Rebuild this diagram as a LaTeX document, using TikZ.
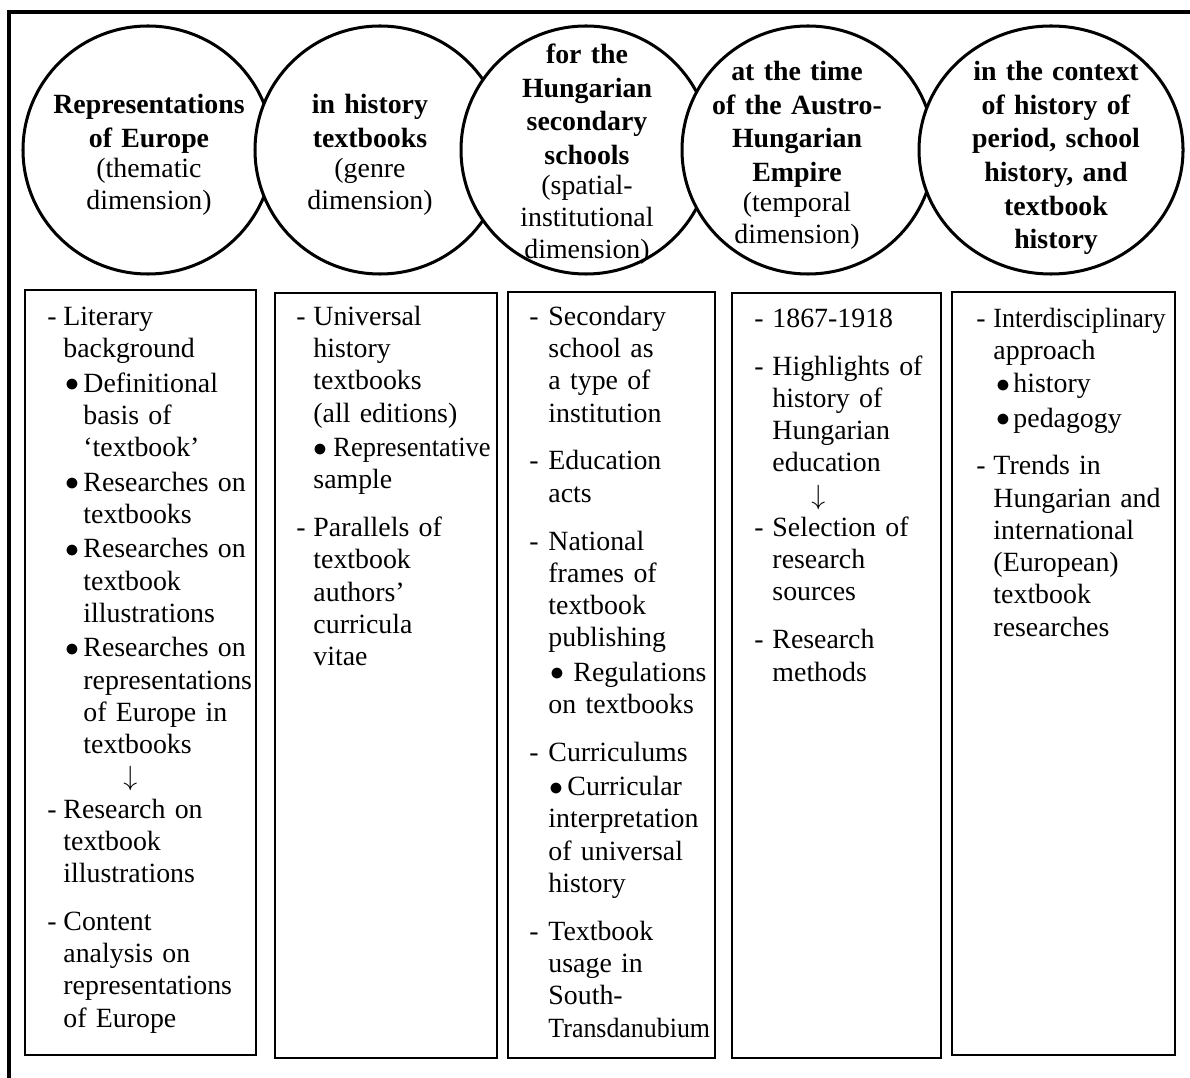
\documentclass[tikz,border=0pt]{standalone}
\usepackage{fontspec}
\setmainfont{Liberation Serif}
\usepackage{graphicx}
\usepackage{tikz}
\usetikzlibrary{shapes.geometric}
\newlength{\px}\setlength{\px}{0.431pt}
\newlength{\dw}\newlength{\bi}\newlength{\bw}
\newcommand{\setcol}[3]{\setlength{\dw}{#1\px}\setlength{\bi}{#2\px}\setlength{\bw}{#3\px}}
\newcommand{\dl}[1]{\makebox[\dw][l]{-}#1}
\newcommand{\cl}{\hspace*{\dw}}
\newcommand{\dotmark}{\hspace{-0.6pt}\raisebox{0.2pt}{$\bullet$}}
\newcommand{\bl}[1]{\hspace*{\bi}\makebox[\bw][l]{\dotmark}#1}
\newcommand{\bc}{\hspace*{\dimexpr\bi+\bw\relax}}
\newcommand{\dgap}{6.7pt}
\newcommand{\bgap}{0.95pt}
\tikzset{
  outerframe/.style = {draw, line width=1.3pt},
  topic/.style      = {ellipse, draw, fill=white, line width=1.3pt,
                       minimum height=248*0.431pt, inner sep=0pt},
  topictext/.style  = {anchor=north, align=center, text width=250*0.431pt,
                       inner sep=0pt, font=\fontsize{12}{13.7}\selectfont},
  colbox/.style     = {draw, line width=0.85pt},
  coltext/.style    = {anchor=north west, align=left, text width=240*0.431pt,
                       inner sep=0pt, font=\fontsize{12}{13.9}\selectfont},
}
\begin{document}
\begin{tikzpicture}[x=0.431pt, y=-0.431pt]
  \path[use as bounding box, clip] (0,0) rectangle (1190,1077);
  \draw[outerframe] (9,12) rectangle (1210,1100);
  % each ellipse is laid over the one before it
  \foreach \n/\cx/\rx in {1/148/125, 2/380/125, 3/586/125, 4/808/126, 5/1051/132}
    {\node[topic, minimum width=2*\rx*0.431pt] (topic\n) at (\cx,150) {};}
  \node[topictext] (thematic) at (149,90.75)
    {\strut\textbf{Representations}\\[0.8pt]\textbf{of Europe}\\[-0.6pt](thematic\\dimension)};
  \node[topictext] (genre) at (370,90.75)
    {\strut\textbf{in history}\\[0.8pt]\textbf{textbooks}\\[-0.6pt](genre\\dimension)};
  \node[topictext] (spatial) at (587,40.75)
    {\strut\textbf{for the}\\[0.8pt]\textbf{Hungarian}\\[0.8pt]\textbf{secondary}\\[0.8pt]%
     \textbf{schools}\\[-0.6pt](spatial-\\institutional\\dimension)};
  \node[topictext] (temporal) at (797,57.75)
    {\strut\textbf{at the time}\\[0.8pt]\textbf{of the Austro-}\\[0.8pt]\textbf{Hungarian}\\[0.8pt]%
     \textbf{Empire}\\[-0.6pt](temporal\\dimension)};
  \node[topictext] (context) at (1056,57.75)
    {\strut\textbf{in the context}\\[0.8pt]\textbf{of history of}\\[0.8pt]\textbf{period, school}\\[0.8pt]%
     \textbf{history, and}\\[0.8pt]\textbf{textbook}\\[0.8pt]\textbf{history}};
  \foreach \n/\xa/\ya/\xb/\yb in {1/25/290/256/1055, 2/275/293/497/1058, 3/508/292/715/1058,
                                  4/732/293/941/1058, 5/952/292/1175/1055}
    {\draw[colbox] (\xa,\ya) rectangle (\xb,\yb);}
  \node[coltext] (colthematic) at (47,302.4) {\setcol{16}{19}{17}%
    \strut\dl{Literary}\\
    \cl background\\[\bgap]
    \bl{Definitional}\\
    \bc basis of\\
    \bc ‘textbook’\\[\bgap]
    \bl{Researches on}\\
    \bc textbooks\\[\bgap]
    \bl{Researches on}\\
    \bc textbook\\
    \bc illustrations\\[\bgap]
    \bl{Researches on}\\
    \bc representations\\
    \bc of Europe in\\
    \bc textbooks\\
    \hspace*{76\px}$\downarrow$\\
    \dl{Research on}\\
    \cl textbook\\
    \cl illustrations\\[\dgap]
    \dl{Content}\\
    \cl analysis on\\
    \cl representations\\
    \cl of Europe};
  \node[coltext] (colgenre) at (296,302.4) {\setcol{17}{18}{19}%
    \strut\dl{Universal}\\
    \cl history\\
    \cl textbooks\\
    \cl (all editions)\\[\bgap]
    \bl{\scalebox{0.95}[1]{Representative}}\\
    \cl sample\\[\dgap]
    \dl{Parallels of}\\
    \cl textbook\\
    \cl authors’\\
    \cl curricula\\
    \cl vitae};
  \node[coltext] (colspatial) at (529,302.4) {\setcol{19}{22}{22}%
    \strut\dl{Secondary}\\
    \cl school as\\
    \cl a type of\\
    \cl institution\\[\dgap]
    \dl{Education}\\
    \cl acts\\[\dgap]
    \dl{National}\\
    \cl frames of\\
    \cl textbook\\
    \cl publishing\\[\bgap]
    \bl{Regulations}\\
    \cl on textbooks\\[\dgap]
    \dl{Curriculums}\\[\bgap]
    \setcol{19}{21}{17}\bl{Curricular}\\
    \cl interpretation\\
    \cl of universal\\
    \cl history\\[\dgap]
    \dl{Textbook}\\
    \cl usage in\\
    \cl South-\\
    \cl \scalebox{0.93}[1]{Transdanubium}};
  \node[coltext] (coltemporal) at (754,304.4) {\setcol{18}{0}{0}%
    \strut\dl{1867-1918}\\[\dgap]
    \dl{Highlights of}\\
    \cl history of\\
    \cl Hungarian\\
    \cl education\\
    \hspace*{57\px}$\downarrow$\\
    \dl{Selection of}\\
    \cl research\\
    \cl sources\\[\dgap]
    \dl{Research}\\
    \cl methods};
  \node[coltext] (colcontext) at (976,304.4) {\setcol{17}{21}{16}%
    \strut\dl{\scalebox{0.935}[1]{Interdisciplinary}}\\
    \cl approach\\[0.3pt]
    \bl{history}\\[\bgap]
    \bl{pedagogy}\\[\dgap]
    \dl{Trends in}\\
    \cl Hungarian and\\
    \cl international\\
    \cl (European)\\
    \cl textbook\\
    \cl researches};
\end{tikzpicture}
\end{document}
